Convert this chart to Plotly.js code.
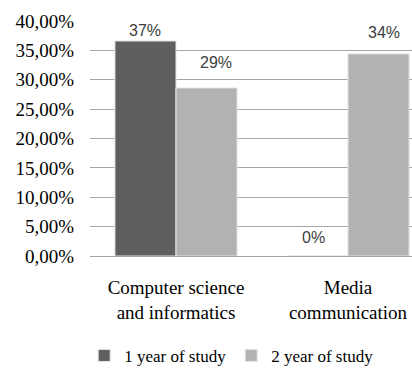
<!DOCTYPE html>
<html>
<head>
<meta charset="utf-8">
<script src="https://cdn.plot.ly/plotly-3.0.1.min.js"></script>
<style>html,body{margin:0;padding:0;background:#fff;}#chart{width:412px;height:374px;}</style>
</head>
<body>
<div id="chart"></div>
<script>
var categories = ["Computer science<br>and informatics", "Media<br>communication"];
var seriesNames = ["1 year of study", "2 year of study"];
var year1 = [36.6, 0];
var year2 = [28.6, 34.4];
var yTicks = [0, 5, 10, 15, 20, 25, 30, 35, 40];

// label nudges (px) to mimic the original label placement
var labelDx = [[0, -3.5], [9, 5]];
var labelDy = [[10, 19], [25, 21]];

var serif = "Liberation Serif, Times New Roman, serif";
var labelFont = {family: "Liberation Sans, Arial, sans-serif", size: 16, color: "#404040"};
var bargap = 0.29;
var half = (1 - bargap) / 4;

var seriesVals = [year1, year2];
var colors = ["#5f5f5f", "#b2b2b2"];

var traces = seriesVals.map(function (vals, s) {
  return {type: "bar", name: seriesNames[s], x: categories, y: vals,
          marker: {color: colors[s], line: {color: "#e4e4e4", width: 1}},
          hoverinfo: "skip"};
});

var annotations = [];
seriesVals.forEach(function (vals, s) {
  vals.forEach(function (v, i) {
    annotations.push({
      xref: "x", yref: "y", x: i + (s === 0 ? -half : half), y: v,
      text: Math.round(v) + "%", showarrow: false,
      xanchor: "center", yanchor: "middle",
      xshift: labelDx[s][i], yshift: labelDy[s][i],
      font: labelFont
    });
  });
});

var layout = {
  width: 412, height: 374,
  margin: {l: 90, r: 0, t: 21, b: 114},
  paper_bgcolor: "#ffffff", plot_bgcolor: "#ffffff",
  barmode: "group", bargap: bargap, bargroupgap: 0,
  showlegend: true,
  legend: {orientation: "h", x: 0.44, xanchor: "center", y: -0.425, yanchor: "middle",
           font: {family: serif, size: 17, color: "#000"}, itemwidth: 30,
           itemclick: false},
  annotations: annotations,
  xaxis: {range: [-0.5, 1.372], showgrid: false, zeroline: false, showline: false,
          ticks: "", ticklabelstandoff: 18,
          tickfont: {family: serif, size: 19, color: "#000"}},
  yaxis: {range: [0, 40], tickmode: "array", tickvals: yTicks,
          ticktext: yTicks.map(function (v) { return v.toFixed(2).replace(".", ",") + "%"; }),
          showgrid: true, gridcolor: "#a6a6a6", gridwidth: 1,
          zeroline: true, zerolinecolor: "#a6a6a6", zerolinewidth: 1,
          showline: false, ticks: "", ticklabelstandoff: 15,
          tickfont: {family: serif, size: 19, color: "#000"}},
  font: {family: serif}
};

Plotly.newPlot("chart", traces, layout, {staticPlot: true, displayModeBar: false});
</script>
</body>
</html>
